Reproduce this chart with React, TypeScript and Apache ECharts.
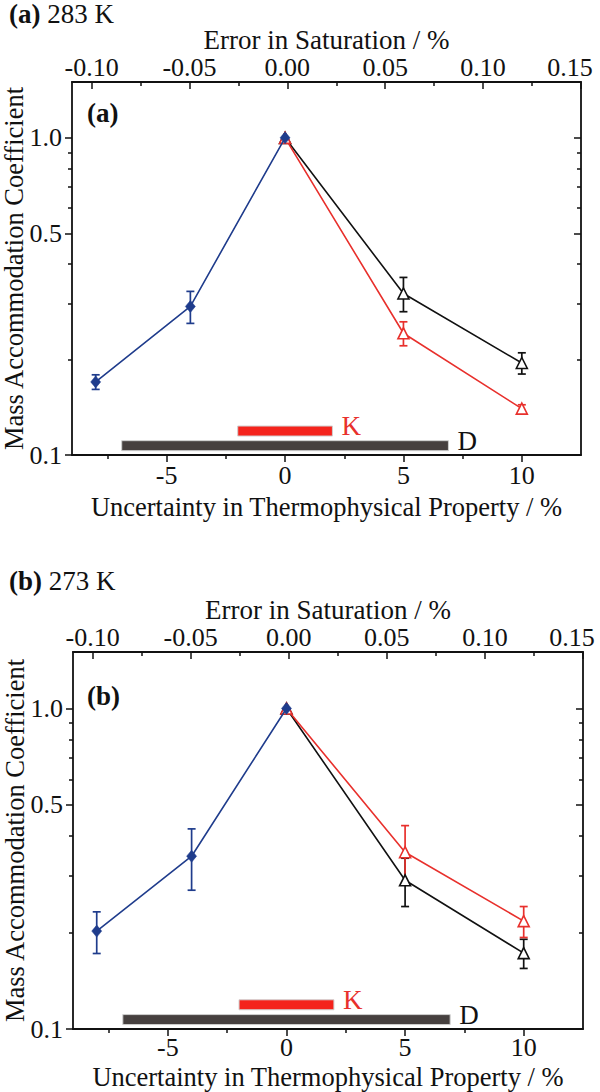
import React, { useEffect, useRef } from "react";
import * as echarts from "echarts";

// ---------- data ----------
const xMainTicks = [-5, 0, 5, 10];
const xMinorTicks = [-7.5, -2.5, 2.5, 7.5];
const topMainTicks = [-0.1, -0.05, 0, 0.05, 0.1, 0.15];
const topMinorTicks = [-0.075, -0.025, 0.025, 0.075, 0.125];
const yMainTicks = [0.1, 0.5, 1.0];
const yMinorTicks = [0.2, 0.3, 0.4, 0.6, 0.7, 0.8, 0.9];

const xBlue = [-8, -4, 0];
const xTri = [0, 5, 10];

// panel (a) 283 K
const aBlue = [0.17, 0.294, 1.0];
const aBlueErr = [0.009, 0.034, 0];
const aBlack = [1.0, 0.323, 0.195];
const aBlackErr = [0, 0.04, 0.015];
const aRed = [1.0, 0.242, 0.14];
const aRedErr = [0, 0.021, 0.004];

// panel (b) 273 K
const bBlue = [0.202, 0.346, 1.0];
const bBlueErr = [0.03, 0.075, 0];
const bBlack = [1.0, 0.291, 0.1725];
const bBlackErr = [0, 0.05, 0.018];
const bRed = [1.0, 0.356, 0.217];
const bRedErr = [0, 0.075, 0.024];

// uncertainty ranges
const kRange = [-2, 2];
const dRange = [-6.9, 6.9];
const kLevel = 0.119;
const dLevel = 0.107;

const X_MIN = -9;
const X_MAX = 12.5;
const TOP_MIN = -0.11;
const TOP_MAX = 0.15;
const Y_MIN = 0.1;
const Y_MAX = 1.5;

// ---------- styling ----------
const FONT = "Liberation Serif";
const INK = "#111111";
const BLUE = "#1f3c8c";
const RED = "#e8302c";
const BLACK = "#111111";
const TICK_FS = 26;
const NAME_FS = 26.5;

const lg = (v: number) => Math.log10(v);

function axesFor(g: number, bottomMargin: number, bottomGap: number) {
  const tickStyle = { color: INK, width: 1.5 };
  const labelStyle = { fontFamily: FONT, fontSize: TICK_FS, color: INK, lineHeight: 22 };
  const nameStyle = { fontFamily: FONT, fontSize: NAME_FS, color: INK, lineHeight: 24 };
  const xAxis = [
    {
      gridIndex: g,
      type: "value",
      min: X_MIN,
      max: X_MAX,
      position: "bottom",
      axisLine: { show: true, onZero: false, lineStyle: { color: INK, width: 1.8 } },
      axisTick: { show: true, inside: false, length: 7, customValues: xMainTicks, lineStyle: tickStyle },
      axisLabel: { show: true, customValues: xMainTicks, margin: bottomMargin, ...labelStyle, formatter: (v: number) => String(v) },
      splitLine: { show: false },
      name: "Uncertainty in Thermophysical Property / %",
      nameLocation: "middle",
      nameGap: bottomGap,
      nameMoveOverlap: false,
      nameTextStyle: nameStyle,
    },
    {
      gridIndex: g,
      type: "value",
      min: X_MIN,
      max: X_MAX,
      position: "bottom",
      axisLine: { show: false, onZero: false },
      axisTick: { show: true, inside: false, length: 4, customValues: xMinorTicks, lineStyle: tickStyle },
      axisLabel: { show: false },
      splitLine: { show: false },
    },
    {
      gridIndex: g,
      type: "value",
      min: TOP_MIN,
      max: TOP_MAX,
      position: "top",
      axisLine: { show: true, onZero: false, lineStyle: { color: INK, width: 1.8 } },
      axisTick: { show: true, inside: true, length: 7, customValues: topMainTicks, lineStyle: tickStyle },
      axisLabel: {
        show: true,
        customValues: topMainTicks,
        margin: 4,
        ...labelStyle,
        formatter: (v: number) => (v >= TOP_MAX - 1e-9 ? `{r|${v.toFixed(2)}}` : v.toFixed(2)),
        rich: { r: { ...labelStyle, padding: [0, 22, 0, 0] } },
      },
      splitLine: { show: false },
      name: "Error in Saturation / %",
      nameLocation: "middle",
      nameGap: 30,
      nameMoveOverlap: false,
      nameTextStyle: { ...nameStyle, fontSize: 27 },
    },
    {
      gridIndex: g,
      type: "value",
      min: TOP_MIN,
      max: TOP_MAX,
      position: "top",
      axisLine: { show: false, onZero: false },
      axisTick: { show: true, inside: true, length: 4, customValues: topMinorTicks, lineStyle: tickStyle },
      axisLabel: { show: false },
      splitLine: { show: false },
    },
  ];
  const yMainLog = yMainTicks.map(lg);
  const yMinorLog = yMinorTicks.map(lg);
  const yAxis = [
    {
      gridIndex: g,
      type: "value",
      min: lg(Y_MIN),
      max: lg(Y_MAX),
      position: "left",
      axisLine: { show: true, onZero: false, lineStyle: { color: INK, width: 1.8 } },
      axisTick: { show: true, inside: false, length: 7, customValues: yMainLog, lineStyle: tickStyle },
      axisLabel: { show: true, customValues: yMainLog, margin: 10, ...labelStyle, formatter: (v: number) => Math.pow(10, v).toFixed(1) },
      splitLine: { show: false },
      name: "Mass Accommodation Coefficient",
      nameLocation: "middle",
      nameRotate: 90,
      nameGap: 46,
      nameMoveOverlap: false,
      nameTextStyle: nameStyle,
    },
    {
      gridIndex: g,
      type: "value",
      min: lg(Y_MIN),
      max: lg(Y_MAX),
      position: "left",
      axisLine: { show: false, onZero: false },
      axisTick: { show: true, inside: false, length: 4, customValues: yMinorLog, lineStyle: tickStyle },
      axisLabel: { show: false },
      splitLine: { show: false },
    },
    {
      gridIndex: g,
      type: "value",
      min: lg(Y_MIN),
      max: lg(Y_MAX),
      position: "right",
      axisLine: { show: true, onZero: false, lineStyle: { color: INK, width: 1.8 } },
      axisTick: { show: true, inside: true, length: 7, customValues: yMainLog, lineStyle: tickStyle },
      axisLabel: { show: false },
      splitLine: { show: false },
    },
    {
      gridIndex: g,
      type: "value",
      min: lg(Y_MIN),
      max: lg(Y_MAX),
      position: "right",
      axisLine: { show: false, onZero: false },
      axisTick: { show: true, inside: true, length: 4, customValues: yMinorLog, lineStyle: tickStyle },
      axisLabel: { show: false },
      splitLine: { show: false },
    },
  ];
  return { xAxis, yAxis };
}

function lineSeries(g: number, xs: number[], ys: number[], color: string, symbol: string, size: any, hollow: boolean, z: number) {
  return {
    type: "line",
    xAxisIndex: g * 4,
    yAxisIndex: g * 4,
    data: xs.map((x, i) => [x, lg(ys[i])]),
    symbol,
    symbolSize: size,
    showSymbol: true,
    lineStyle: { color, width: 1.6 },
    itemStyle: hollow
      ? { color: "#ffffff", borderColor: color, borderWidth: 1.6 }
      : { color, borderColor: color, borderWidth: 0.5 },
    z,
    silent: true,
  };
}

function errorSeries(g: number, xs: number[], ys: number[], es: number[], color: string, z: number) {
  const data = xs
    .map((x, i) => [x, lg(ys[i] - es[i]), lg(ys[i] + es[i]), es[i]])
    .filter((d) => d[3] > 0)
    .map((d) => [d[0], d[1], d[2]]);
  return {
    type: "custom",
    xAxisIndex: g * 4,
    yAxisIndex: g * 4,
    data,
    encode: { x: 0, y: [1, 2] },
    z,
    silent: true,
    renderItem: (params: any, api: any) => {
      const x = api.value(0);
      const lo = api.coord([x, api.value(1)]);
      const hi = api.coord([x, api.value(2)]);
      const c = 4;
      const style = { stroke: color, lineWidth: 1.7 };
      return {
        type: "group",
        children: [
          { type: "line", shape: { x1: lo[0], y1: lo[1], x2: hi[0], y2: hi[1] }, style },
          { type: "line", shape: { x1: lo[0] - c, y1: lo[1], x2: lo[0] + c, y2: lo[1] }, style },
          { type: "line", shape: { x1: hi[0] - c, y1: hi[1], x2: hi[0] + c, y2: hi[1] }, style },
        ],
      };
    },
  };
}

function rangeSeries(g: number, range: number[], level: number, fill: string, label: string, labelColor: string) {
  return {
    type: "custom",
    xAxisIndex: g * 4,
    yAxisIndex: g * 4,
    data: [[range[0], range[1], lg(level)]],
    encode: { x: [0, 1], y: 2 },
    z: 1,
    silent: true,
    renderItem: (params: any, api: any) => {
      const s = api.coord([api.value(0), api.value(2)]);
      const e = api.coord([api.value(1), api.value(2)]);
      return {
        type: "group",
        children: [
          {
            type: "rect",
            shape: { x: s[0], y: s[1] - 5, width: e[0] - s[0], height: 10 },
            style: { fill, stroke: "#d0d0d0", lineWidth: 1 },
          },
          {
            type: "text",
            x: e[0] + 9,
            y: s[1] - 5,
            style: {
              text: label,
              fill: labelColor,
              font: `27px "${FONT}"`,
              align: "left",
              verticalAlign: "middle",
            },
          },
        ],
      };
    },
  };
}

function panelSeries(g: number, blue: number[], blueErr: number[], black: number[], blackErr: number[], red: number[], redErr: number[]) {
  return [
    rangeSeries(g, dRange, dLevel, "#46403f", "D", INK),
    rangeSeries(g, kRange, kLevel, "#f4231c", "K", RED),
    errorSeries(g, xTri, black, blackErr, BLACK, 2),
    errorSeries(g, xTri, red, redErr, RED, 2),
    errorSeries(g, xBlue, blue, blueErr, BLUE, 2),
    lineSeries(g, xTri, black, BLACK, "triangle", 11, true, 3),
    lineSeries(g, xTri, red, RED, "triangle", 11, true, 4),
    lineSeries(g, xBlue, blue, BLUE, "diamond", [10, 12], false, 5),
  ];
}

export default function App() {
  const ref = useRef<HTMLDivElement>(null);
  useEffect(() => {
    if (!ref.current) return;
    const chart = echarts.init(ref.current, null, { renderer: "svg" });
    const a = axesFor(0, 9, 40);
    const b = axesFor(1, 7, 36);
    const titleRich = {
      b: { fontFamily: FONT, fontSize: 27, fontWeight: "bold", color: INK, lineHeight: 26 },
      n: { fontFamily: FONT, fontSize: 27, fontWeight: "normal", color: INK, lineHeight: 26 },
    };
    chart.setOption({
      animation: false,
      backgroundColor: "#ffffff",
      textStyle: { fontFamily: FONT },
      title: [
        { text: "{b|(a)}{n| 283 K}", left: 9, top: 1, padding: 0, textStyle: { rich: titleRich } },
        { text: "{b|(b)}{n| 273 K}", left: 9, top: 568, padding: 0, textStyle: { rich: titleRich } },
      ],
      grid: [
        { left: 72, top: 82, width: 509, height: 373, containLabel: false, outerBoundsMode: "none" },
        { left: 73, top: 652, width: 510, height: 377, containLabel: false, outerBoundsMode: "none" },
      ],
      xAxis: [...a.xAxis, ...b.xAxis],
      yAxis: [...a.yAxis, ...b.yAxis],
      graphic: [
        { type: "text", left: 87, top: 99, style: { text: "(a)", font: `bold 27px "${FONT}"`, fill: INK } },
        { type: "text", left: 87, top: 682, style: { text: "(b)", font: `bold 27px "${FONT}"`, fill: INK } },
      ],
      series: [
        ...panelSeries(0, aBlue, aBlueErr, aBlack, aBlackErr, aRed, aRedErr),
        ...panelSeries(1, bBlue, bBlueErr, bBlack, bBlackErr, bRed, bRedErr),
      ],
    });
    return () => chart.dispose();
  }, []);
  return (
    <div
      ref={ref}
      style={{ position: "absolute", left: 0, top: 0, width: 600, height: 1092, background: "#fff" }}
    />
  );
}
